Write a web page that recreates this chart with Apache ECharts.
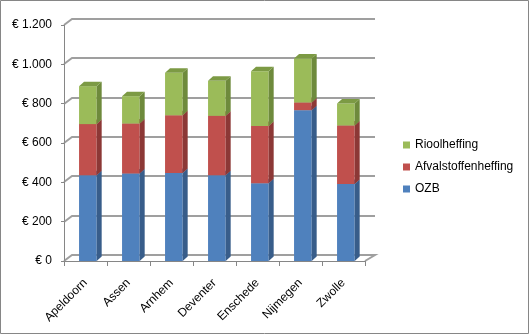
<!DOCTYPE html>
<html>
<head>
<meta charset="utf-8">
<script src="https://cdn.jsdelivr.net/npm/echarts@6/dist/echarts.min.js"></script>
<style>
  html, body { margin: 0; padding: 0; background: #fff; }
  #chart { width: 529px; height: 334px; }
</style>
</head>
<body>
<div id="chart"></div>
<script>
// Gemeentelijke lasten per gemeente (euro)
const gemeenten = ['Apeldoorn', 'Assen', 'Arnhem', 'Deventer', 'Enschede', 'Nijmegen', 'Zwolle'];
const ozb = [436, 445, 448, 436, 395, 767, 392];
const afvalstoffenheffing = [260, 254, 293, 302, 292, 39, 297];
const rioolheffing = [193, 139, 216, 178, 278, 224, 112];
const yTicks = [0, 200, 400, 600, 800, 1000, 1200];

// face colours: front, side, top
const palette = {
  OZB: ['#4F81BD', '#385D8A', '#41689A'],
  Afvalstoffenheffing: ['#C0504D', '#8C3836', '#A0433F'],
  Rioolheffing: ['#9BBB59', '#6E8A3C', '#7C9A44']
};

const FONT = '"Liberation Sans", Arial, sans-serif';
const DX = 5, DY = -4.5;       // depth of each column
const WX = 8, WY = -6;         // depth of the back wall (left edge)
const WX_R = 10;               // depth of the back wall (right edge)
const WALL_LINE = '#8E8E8E';

function euro(v) {
  const s = String(v).replace(/\B(?=(\d{3})+(?!\d))/g, '.');
  return '€ ' + s;
}

// stacked [index, base, top] triples
function stackRows(layers) {
  const out = layers.map(() => []);
  gemeenten.forEach((_, i) => {
    let base = 0;
    layers.forEach((arr, k) => {
      out[k].push([i, base, base + arr[i]]);
      base += arr[i];
    });
  });
  return out;
}
const [ozbRows, afvalRows, rioolRows] = stackRows([ozb, afvalstoffenheffing, rioolheffing]);

function boxRenderer(colors) {
  return function (params, api) {
    const i = api.value(0), lo = api.value(1), hi = api.value(2);
    const b = api.coord([i, lo]);
    const t = api.coord([i, hi]);
    const band = api.size([1, 0])[0];
    const x0 = b[0] - band * 0.15;
    const w = band * 0.41;
    const x1 = x0 + w;
    return {
      type: 'group',
      children: [
        { type: 'rect', shape: { x: x0, y: t[1], width: w, height: b[1] - t[1] },
          style: { fill: colors[0] } },
        { type: 'polygon', shape: { points: [[x1, t[1]], [x1 + DX, t[1] + DY], [x1 + DX, b[1] + DY], [x1, b[1]]] },
          style: { fill: colors[1] } },
        { type: 'polygon', shape: { points: [[x0, t[1]], [x0 + DX, t[1] + DY], [x1 + DX, t[1] + DY], [x1, t[1]]] },
          style: { fill: colors[2] } }
      ]
    };
  };
}

// back-wall gridline for each tick, with the side-wall edge joining it to the value axis
function wallRenderer(params, api) {
  const cs = params.coordSys;
  const v = api.value(1);
  const y = Math.round(api.coord([0, v])[1]);
  const left = cs.x, right = cs.x + cs.width;
  const pts = [[left, y], [left + WX, y + WY], [right + WX_R, y + WY]];
  if (v === 0) pts.push([right, y]);
  return {
    type: 'polyline',
    shape: { points: pts },
    style: { stroke: WALL_LINE, lineWidth: 2, fill: null, opacity: 0.85 }
  };
}

const chart = echarts.init(document.getElementById('chart'), null, { renderer: 'canvas' });

chart.setOption({
  animation: false,
  backgroundColor: '#fff',
  textStyle: { fontFamily: FONT },
  graphic: [{
    type: 'rect', silent: true, z: -10,
    shape: { x: 0.5, y: 0.5, width: 528, height: 333 },
    style: { fill: 'none', stroke: '#868686', lineWidth: 1 }
  }],
  legend: {
    orient: 'vertical',
    left: 398, top: 134,
    icon: 'rect', itemWidth: 7, itemHeight: 7, itemGap: 10,
    data: ['Rioolheffing', 'Afvalstoffenheffing', 'OZB'],
    textStyle: { fontFamily: FONT, fontSize: 12, color: '#000' }
  },
  grid: { left: 64, right: 164, top: 25, bottom: 73 },
  xAxis: {
    type: 'category', data: gemeenten, boundaryGap: true,
    axisLine: { lineStyle: { color: '#868686', width: 1 } },
    axisTick: { show: true, length: 5, lineStyle: { color: '#868686' } },
    axisLabel: { rotate: 45, margin: 20, fontSize: 12, color: '#000', fontFamily: FONT }
  },
  yAxis: {
    type: 'value', min: 0, max: 1200, interval: 200,
    axisLine: { show: true, lineStyle: { color: '#868686', width: 1 } },
    axisTick: { show: true, length: 3, lineStyle: { color: '#868686' } },
    splitLine: { show: false },
    axisLabel: { margin: 12, fontSize: 12, color: '#000', fontFamily: FONT, formatter: euro }
  },
  series: [
    {
      type: 'custom', name: 'walls', silent: true, z: 1, clip: false,
      data: yTicks.map(v => [0, v]), encode: { x: 0, y: 1 },
      renderItem: wallRenderer
    },
    {
      type: 'custom', name: 'OZB', z: 3,
      itemStyle: { color: palette.OZB[0] },
      data: ozbRows, encode: { x: 0, y: [1, 2] },
      renderItem: boxRenderer(palette.OZB)
    },
    {
      type: 'custom', name: 'Afvalstoffenheffing', z: 4,
      itemStyle: { color: palette.Afvalstoffenheffing[0] },
      data: afvalRows, encode: { x: 0, y: [1, 2] },
      renderItem: boxRenderer(palette.Afvalstoffenheffing)
    },
    {
      type: 'custom', name: 'Rioolheffing', z: 5,
      itemStyle: { color: palette.Rioolheffing[0] },
      data: rioolRows, encode: { x: 0, y: [1, 2] },
      renderItem: boxRenderer(palette.Rioolheffing)
    }
  ]
});
</script>
</body>
</html>
